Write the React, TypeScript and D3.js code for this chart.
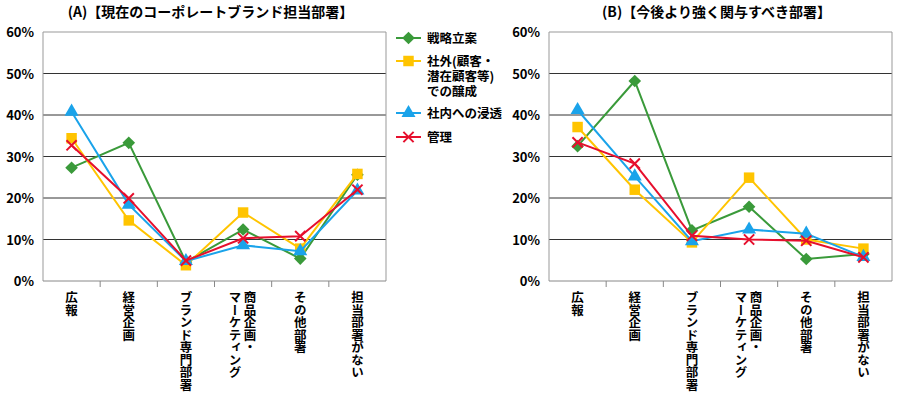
import React from "react";
import * as d3 from "d3";

const categories = [
  ["広報"],
  ["経営企画"],
  ["ブランド専門部署"],
  ["商品企画・", "マーケティング"],
  ["その他部署"],
  ["担当部署がない"],
];

const yTicks = [0, 10, 20, 30, 40, 50, 60];

// (A) current corporate brand department
const aStrategy = [27.3, 33.3, 4.6, 12.4, 5.4, 25.6];
const aExternal = [34.4, 14.6, 3.8, 16.5, 7.8, 25.8];
const aInternal = [40.8, 18.4, 4.8, 8.6, 7.2, 21.8];
const aManage = [32.7, 19.9, 4.9, 10.3, 10.8, 22.0];

// (B) departments that should be more involved
const bStrategy = [32.5, 48.2, 12.2, 17.9, 5.3, 6.5];
const bExternal = [37.1, 22.0, 9.3, 24.9, 10.0, 7.8];
const bInternal = [41.2, 25.2, 9.6, 12.4, 11.4, 5.8];
const bManage = [33.4, 28.3, 10.9, 10.0, 9.7, 5.7];

const colors = ["#3a9a3a", "#ffc400", "#1aa3ea", "#e60f2d"];
const shapes = [d3.symbolSquare, d3.symbolSquare, d3.symbolTriangle, d3.symbolX];
const sizes = [80, 110, 85, 70];

const FONT = "'Noto Sans CJK JP', 'Noto Sans', sans-serif";

function Marker({ i, x, y }: { i: number; x: number; y: number }) {
  const p = d3.symbol().type(shapes[i]).size(sizes[i])();
  const rot = i === 0 ? " rotate(45)" : "";
  if (i === 3)
    return <path d={p || ""} transform={`translate(${x},${y})`} fill="none" stroke={colors[i]} strokeWidth={2} />;
  return <path d={p || ""} transform={`translate(${x},${y})${rot}`} fill={colors[i]} />;
}

function Panel({ left, title, series }: { left: number; title: string; series: number[][] }) {
  const top = 32, bottom = 281, width = 343;
  const x = d3.scaleBand().domain(categories.map((c) => c.join(""))).range([left, left + width]);
  const y = d3.scaleLinear().domain([0, 60]).range([bottom, top]);
  const cxOf = (k: number) => (x(categories[k].join("")) || 0) + x.bandwidth() / 2;
  const line = d3
    .line<number>()
    .x((_, k) => cxOf(k))
    .y((v) => y(v));
  return (
    <g>
      <text x={left + width / 2 - 4} y={17} textAnchor="middle" fontSize={14} fontWeight="bold" fontFamily={FONT}>
        {title}
      </text>
      {yTicks.map((t) => (
        <g key={t}>
          {t > 0 && <line x1={left} x2={left + width} y1={y(t)} y2={y(t)} stroke={t === 60 ? "#999" : "#333"} strokeWidth={1} />}
          <text x={left - 9} y={y(t) + 5} textAnchor="end" fontSize={13} fontWeight="bold" fontFamily={FONT}>
            {t}%
          </text>
        </g>
      ))}
      <line x1={left} x2={left} y1={top} y2={bottom} stroke="#999" />
      <line x1={left + width} x2={left + width} y1={top} y2={bottom} stroke="#999" />
      <line x1={left} x2={left + width} y1={bottom} y2={bottom} stroke="#888" />
      {categories.map((c, k) => {
        const x0 = x(c.join("")) || 0;
        const cx = cxOf(k);
        return (
          <g key={k}>
            {k > 0 && <line x1={x0} x2={x0} y1={bottom} y2={bottom + 6} stroke="#888" />}
            {c.map((s, j) => (
              <text
                key={j}
                x={c.length > 1 ? cx + 7 - j * 15 : cx}
                y={291}
                fontSize={12.5}
                fontWeight="bold"
                fontFamily={FONT}
                style={{ writingMode: "vertical-rl" }}
              >
                {s}
              </text>
            ))}
          </g>
        );
      })}
      {series.map((vals, i) => (
        <g key={i}>
          <path d={line(vals) || ""} fill="none" stroke={colors[i]} strokeWidth={2} />
          {vals.map((v, k) => (
            <Marker key={k} i={i} x={cxOf(k)} y={y(v)} />
          ))}
        </g>
      ))}
    </g>
  );
}

function Legend() {
  const rows = [
    { i: 0, y: 38, lines: ["戦略立案"] },
    { i: 1, y: 61, lines: ["社外(顧客・", "潜在顧客等)", "での醸成"] },
    { i: 2, y: 113, lines: ["社内への浸透"] },
    { i: 3, y: 137, lines: ["管理"] },
  ];
  return (
    <g>
      {rows.map((r) => (
        <g key={r.i}>
          <line x1={396} x2={421} y1={r.y} y2={r.y} stroke={colors[r.i]} strokeWidth={2} />
          <Marker i={r.i} x={408.5} y={r.y} />
          <text x={427} y={r.y + 5} fontSize={12.5} fontWeight="bold" fontFamily={FONT}>
            {r.lines.map((l, j) => (
              <tspan key={j} x={427} dy={j === 0 ? 0 : 15}>
                {l}
              </tspan>
            ))}
          </text>
        </g>
      ))}
    </g>
  );
}

export default function App() {
  return (
    <svg
      width={899}
      height={399}
      style={{ position: "fixed", left: 0, top: 0, background: "#fff", display: "block" }}
    >
      <rect width={899} height={399} fill="#fff" />
      <Panel left={43} title="(A)【現在のコーポレートブランド担当部署】" series={[aStrategy, aExternal, aInternal, aManage]} />
      <Panel left={549} title="(B)【今後より強く関与すべき部署】" series={[bStrategy, bExternal, bInternal, bManage]} />
      <Legend />
    </svg>
  );
}
